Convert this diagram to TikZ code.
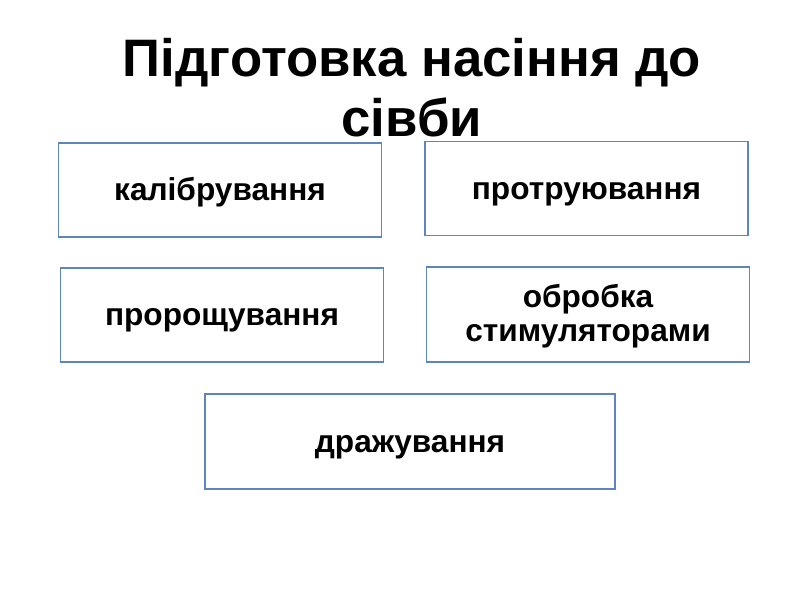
\documentclass[tikz,border=0pt]{standalone}
\usepackage{fontspec}
\setmainfont{Liberation Sans}
\usetikzlibrary{positioning}
\definecolor{boxblue}{RGB}{95,133,189}
\tikzset{
  titletext/.style={font=\bfseries\fontsize{30}{34}\selectfont,align=center,inner sep=0pt},
  stagebox/.style={draw=boxblue,line width=0.9pt,minimum width=6.46cm,minimum height=1.88cm,
    align=center,inner sep=3pt,font=\bfseries\fontsize{18}{19.5}\selectfont,fill=white},
  stageline/.style={stagebox,text height=12.2pt,text depth=0pt},
  stageboxw/.style={stageline,minimum width=8.2cm,minimum height=1.9cm}
}
\begin{document}
\begin{tikzpicture}[x=1cm,y=1cm]
  \useasboundingbox[fill=white] (0,0) rectangle (16,12);
  \node[titletext] (title) at (8.24,10.25) {Підготовка насіння до\\сівби};
  \node[stageline] (calib) at (4.40,8.20) {калібрування};
  \node[stageline] (treat) at (11.73,8.23) {протруювання};
  \node[stageline] (sprout) at (4.44,5.70) {пророщування};
  \node[stagebox,minimum height=1.9cm] (stim) at (11.76,5.71) {};
  \node[align=center,inner sep=0pt,font=\bfseries\fontsize{18}{19.5}\selectfont]
    (stimtext) at ([yshift=-0.04cm]stim.center) {обробка\\стимуляторами};
  \node[stageboxw] (coat) at (8.20,3.17) {дражування};
\end{tikzpicture}
\end{document}
